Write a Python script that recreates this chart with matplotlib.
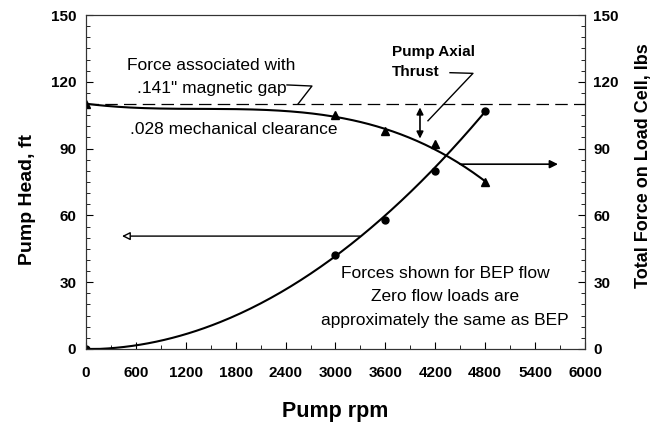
import numpy as np
import matplotlib
matplotlib.use("Agg")
import matplotlib.pyplot as plt
from matplotlib.ticker import MultipleLocator

# ---- data ----
rpm_pts = [0, 3000, 3600, 4200, 4800]
head_pts = [0, 42, 58, 80, 107]
force_pts = [110, 105, 98, 92, 75]

# smooth curves
head_curve_rpm = [0, 600, 1200, 1800, 2400, 3000, 3600, 4200, 4800]
head_curve_val = [0, 1.5, 6.5, 15, 27, 42, 60, 81, 107]
force_curve_rpm = [0, 1200, 2400, 3000, 3600, 4200, 4800]
force_curve_val = [110, 108.5, 106, 104.3, 99, 90, 75]

magnetic_gap_force = 110

x_ticks = [0, 600, 1200, 1800, 2400, 3000, 3600, 4200, 4800, 5400, 6000]
y_ticks = [0, 30, 60, 90, 120, 150]

FONT = "Liberation Sans"
plt.rcParams['font.family'] = [FONT, 'DejaVu Sans']

fig = plt.figure(figsize=(6.64, 4.23), dpi=100)
ax = fig.add_axes([0.1295, 0.175, 0.7515, 0.7895])
ax2 = ax.twinx()

# smooth lines via polynomial fit of read values
hp = np.polyfit(head_curve_rpm, head_curve_val, 2)
fp = np.polyfit(force_curve_rpm, force_curve_val, 3)
xh = np.linspace(0, 4800, 200)
yh = np.maximum(np.polyval(hp, xh), 0)
ax.plot(xh, yh, color='black', lw=1.5)
ax.plot(rpm_pts, head_pts, 'o', color='black', ms=5)

ax2.plot(xh, np.polyval(fp, xh), color='black', lw=1.5)
ax2.plot(rpm_pts, force_pts, '^', color='black', ms=5.5)
ax2.plot([0, 6000], [magnetic_gap_force]*2, color='black', lw=0.9,
         dashes=(10, 5))

for a in (ax, ax2):
    a.set_xlim(0, 6000)
    a.set_ylim(0, 150)
    a.yaxis.set_minor_locator(MultipleLocator(5))
    a.set_yticks(y_ticks)
ax.set_xticks(x_ticks)
ax.xaxis.set_minor_locator(MultipleLocator(300))

ax.tick_params(axis='x', which='both', direction='in', top=False, pad=12)
ax.tick_params(axis='x', which='major', length=5)
ax.tick_params(axis='x', which='minor', length=3)
ax.tick_params(axis='y', which='both', direction='in', pad=7)
ax2.tick_params(axis='y', which='both', direction='in', pad=6)
for a in (ax, ax2):
    a.tick_params(axis='y', which='major', length=5)
    a.tick_params(axis='y', which='minor', length=3)
for lab in ax.get_xticklabels() + ax.get_yticklabels() + ax2.get_yticklabels():
    lab.set_fontweight('bold')
    lab.set_fontsize(11)

for a in (ax, ax2):
    for s in a.spines.values():
        s.set_linewidth(0.8)
        s.set_color('#333333')

ax.set_xlabel("Pump rpm", fontsize=15.5, fontweight='bold')
ax.xaxis.set_label_coords(0.5, -0.157)
ax.set_ylabel("Pump Head, ft", fontsize=14, fontweight='bold')
ax.yaxis.set_label_coords(-0.100, 0.449)
ax2.set_ylabel("Total Force on Load Cell, lbs", fontsize=13, fontweight='bold')
ax2.yaxis.set_label_coords(1.101, 0.548)

tk = dict(fontsize=12.5, color='black')
ax2.text(1500, 127.5, "Force associated with", ha='center', va='center', **tk)
ax2.text(1515, 117.2, '.141" magnetic gap', ha='center', va='center', **tk)
ax2.plot([2417, 2717, 2549], [118.6, 118.1, 110], color='black', lw=1)
ax2.text(1780, 98.6, ".028 mechanical clearance", ha='center', va='center', **tk)

ax2.text(3679, 133.2, "Pump Axial", ha='left', va='center', fontsize=11,
         fontweight='bold')
ax2.text(3679, 124.4, "Thrust", ha='left', va='center', fontsize=11,
         fontweight='bold')
ax2.plot([4377, 4653, 4112], [124.1, 123.8, 102.5], color='black', lw=1)

ax2.annotate("", xy=(4016, 108.5), xytext=(4016, 94.5),
             arrowprops=dict(arrowstyle='<|-|>', color='black', lw=1.2,
                             mutation_scale=10, shrinkA=0, shrinkB=0))
ax2.annotate("", xy=(5675, 83), xytext=(4497, 83),
             arrowprops=dict(arrowstyle='-|>', color='black', lw=1.2,
                             mutation_scale=12, shrinkA=0, shrinkB=0))
ax.annotate("", xy=(433, 50.7), xytext=(3294, 50.7),
            arrowprops=dict(arrowstyle='-|>', color='black', lw=1.0,
                            mutation_scale=12, shrinkA=0, shrinkB=0,
                            fc='white'))

ax.text(4317, 33.7, "Forces shown for BEP flow", ha='center', va='center', **tk)
ax.text(4317, 23.4, "Zero flow loads are", ha='center', va='center', **tk)
ax.text(4317, 13.0, "approximately the same as BEP", ha='center', va='center', **tk)

fig.savefig("out.png", dpi=100)
